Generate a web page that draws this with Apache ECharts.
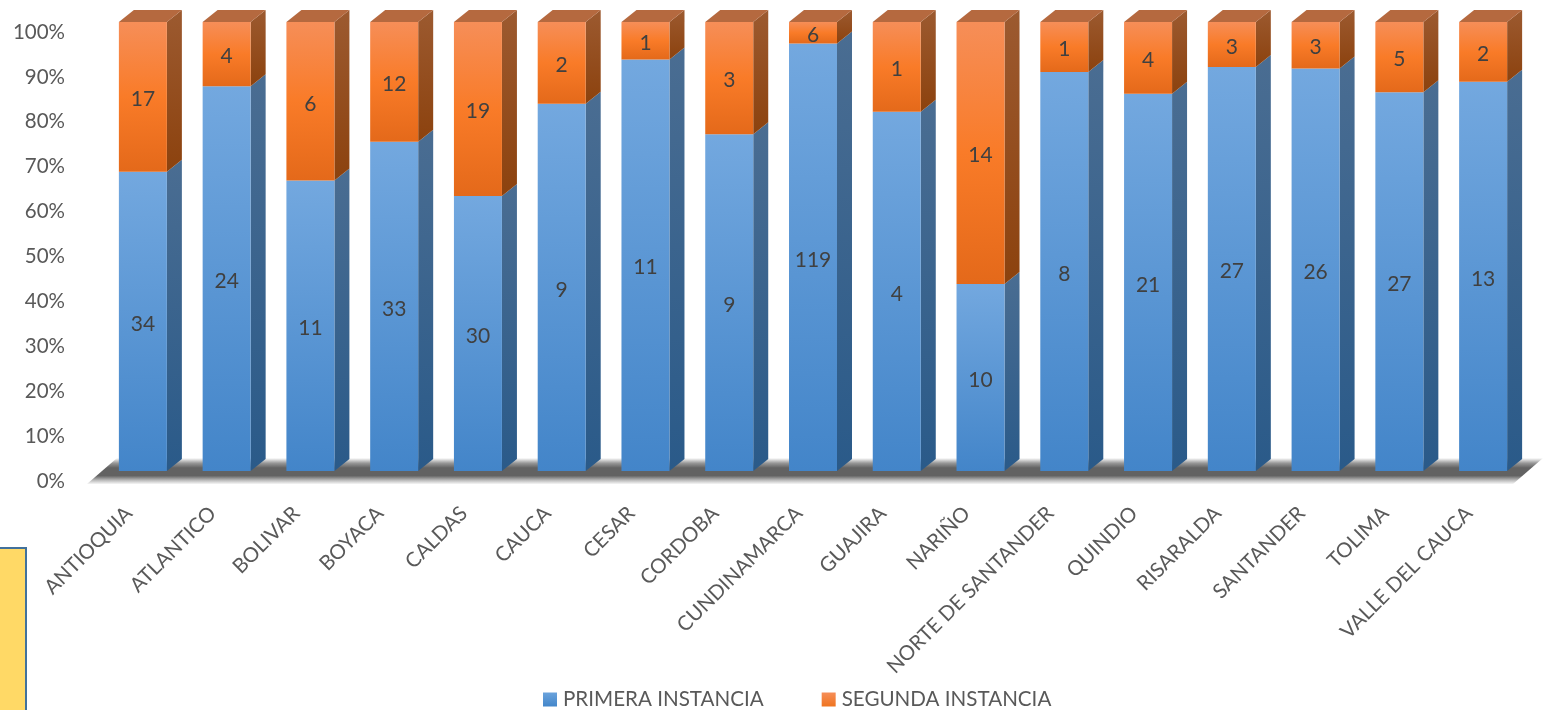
<!DOCTYPE html>
<html><head><meta charset="utf-8">
<style>html,body{margin:0;padding:0;background:#fff}#c{width:1543px;height:710px}</style>
<script src="https://cdn.jsdelivr.net/npm/echarts@6/dist/echarts.min.js"></script>
</head><body><div id="c"></div>
<script>
const categories = ['ANTIOQUIA','ATLANTICO','BOLIVAR','BOYACA','CALDAS','CAUCA','CESAR','CORDOBA','CUNDINAMARCA','GUAJIRA','NARIÑO','NORTE DE SANTANDER','QUINDIO','RISARALDA','SANTANDER','TOLIMA','VALLE DEL CAUCA'];
const primera = [34,24,11,33,30,9,11,9,119,4,10,8,21,27,26,27,13];
const segunda = [17,4,6,12,19,2,1,3,6,1,14,1,4,3,3,5,2];
const yTicks = {min:0,max:100,interval:10};

const DX=14, DY=-10, SIDE_X=15, SIDE_Y=-12, BAR_W=48;
const grad=(a,b,c)=>new echarts.graphic.LinearGradient(0,0,0,1,c?[{offset:0,color:a},{offset:.5,color:b},{offset:1,color:c}]:[{offset:0,color:a},{offset:1,color:b}]);
const styles={
  blue:{front:()=>grad('#73a8df','#4385c9'),side:()=>grad('#4a6d92','#2a5a89'),label:'#404040'},
  orange:{front:()=>grad('#f68e58','#f97b28','#e4691a'),side:()=>grad('#9c5a30','#8c420e'),top:'#b5693f',label:'#404040'}
};
const pct=(i)=>primera[i]/(primera[i]+segunda[i])*100;
const rows1=categories.map((c,i)=>[i,0,pct(i),primera[i]]);
const rows2=categories.map((c,i)=>[i,pct(i),100,segunda[i]]);

function segRender(st,hasTop){
  return function(params,api){
    const i=api.value(0);
    const cx=api.coord([i,0])[0]+DX;
    const yB=api.coord([i,api.value(1)])[1]+DY;
    const yT=api.coord([i,api.value(2)])[1]+DY;
    const l=cx-BAR_W/2,r=cx+BAR_W/2;
    const ch=[
      {type:'polygon',shape:{points:[[r,yT],[r+SIDE_X,yT+SIDE_Y],[r+SIDE_X,yB+SIDE_Y],[r,yB]]},style:{fill:st.side()}},
      {type:'rect',shape:{x:l,y:yT,width:BAR_W,height:yB-yT},style:{fill:st.front()}}
    ];
    if(hasTop) ch.push({type:'polygon',shape:{points:[[l,yT],[r,yT],[r+SIDE_X,yT+SIDE_Y],[l+SIDE_X,yT+SIDE_Y]]},style:{fill:st.top}});
    ch.push({type:'text',style:{x:cx,y:(yT+yB)/2+2.5,text:String(api.value(3)),fill:st.label,font:'21px Lato',align:'center',verticalAlign:'middle'}});
    return {type:'group',children:ch};
  };
}
function floorRender(params,api){
  const c=params.coordSys;
  const y0=c.y+c.height+3, x0=c.x, x1=c.x+c.width+2;
  return {type:'polygon',shape:{points:[[x0,y0],[x1,y0],[x1+30,y0-26],[x0+30,y0-26]]},
    style:{fill:new echarts.graphic.LinearGradient(0,0,0,1,[
      {offset:0,color:'#ffffff'},{offset:.2,color:'#969696'},{offset:.38,color:'#626262'},{offset:.68,color:'#626262'},{offset:.85,color:'#b8b8b8'},{offset:1,color:'#f6f6f6'}])}};
}
const chart=echarts.init(document.getElementById('c'),null,{renderer:'canvas'});
chart.setOption({
  animation:false,
  backgroundColor:'#fff',
  textStyle:{fontFamily:'Lato'},
  grid:{left:87,top:32,width:1424,height:449,containLabel:false},
  xAxis:{type:'category',data:categories,axisLine:{show:false},axisTick:{show:false},
    axisLabel:{rotate:45,interval:0,margin:29,color:'#595959',fontSize:20.4,fontFamily:'Lato'}},
  yAxis:{type:'value',min:yTicks.min,max:yTicks.max,interval:yTicks.interval,axisLine:{show:false},axisTick:{show:false},splitLine:{show:false},
    axisLabel:{formatter:'{value}%',margin:22,color:'#595959',fontSize:20.5,fontFamily:'Lato',padding:[6,0,0,0]}},
  legend:{left:543,top:689,itemWidth:14,itemHeight:14,itemGap:58,icon:'rect',padding:0,
    textStyle:{color:'#595959',fontSize:20.6,fontFamily:'Lato',padding:[0,0,0,1]},
    data:['PRIMERA INSTANCIA','SEGUNDA INSTANCIA']},
  graphic:[{type:'rect',left:-2,top:547,shape:{width:27,height:170},style:{fill:'#ffd966',stroke:'#41719c',lineWidth:2},silent:true}],
  series:[
    {type:'custom',name:'floor',renderItem:floorRender,data:[[0,0]],z:1,silent:true,encode:{x:0,y:1}},
    {type:'custom',name:'PRIMERA INSTANCIA',renderItem:segRender(styles.blue,false),data:rows1,z:2,encode:{x:0,y:[1,2]},itemStyle:{color:grad('#6ba3dc','#4386ca')}},
    {type:'custom',name:'SEGUNDA INSTANCIA',renderItem:segRender(styles.orange,true),data:rows2,z:2,encode:{x:0,y:[1,2]},itemStyle:{color:grad('#f68e58','#ef7420')}}
  ]
});
</script></body></html>
